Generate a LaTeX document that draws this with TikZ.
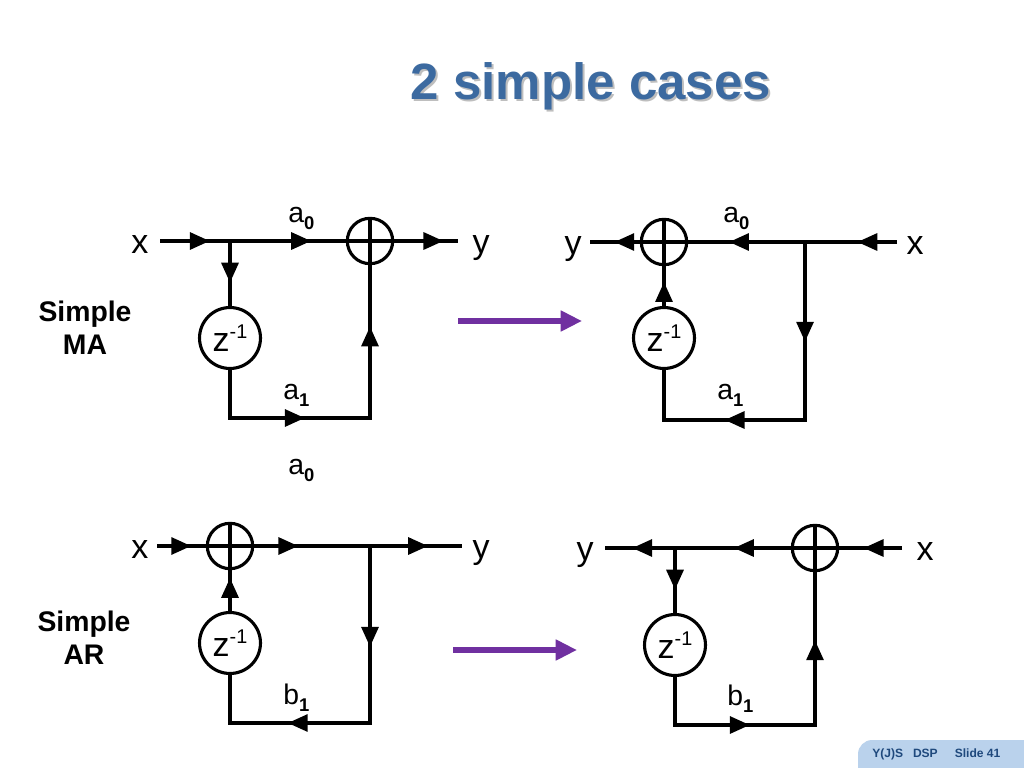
\documentclass[tikz,border=0pt]{standalone}
\usepackage{fontspec}
\setmainfont{Liberation Sans}
\usetikzlibrary{arrows.meta,decorations.markings}

\definecolor{titleblue}{RGB}{60,106,160}
\definecolor{titleshade}{RGB}{190,190,190}
\definecolor{swappurple}{RGB}{112,48,160}
\definecolor{footblue}{RGB}{186,210,236}
\definecolor{foottext}{RGB}{31,73,125}

\newcommand\zinv{z\raisebox{9pt}{\fontsize{14}{14}\selectfont -1}}
\newcommand\coef[2]{#1\raisebox{-5pt}{\fontsize{13}{13}\selectfont\bfseries #2}}

\tikzset{
  sig/.style={line width=2.2pt},
  tip/.style={postaction={decorate,decoration={markings,
      mark=at position #1 with {\arrow{Triangle[length=14pt,width=12pt]}}}}},
  adder/.style={circle,draw,line width=2.2pt,minimum size=32pt,inner sep=0pt,
      path picture={\draw[line width=2.2pt]
        (path picture bounding box.north) -- (path picture bounding box.south)
        (path picture bounding box.west) -- (path picture bounding box.east);}},
  delay/.style={circle,draw,line width=2.2pt,minimum size=43pt,inner sep=0pt,
      font=\fontsize{24}{24}\selectfont},
  lbl/.style={anchor=base,inner sep=0pt,font=\fontsize{24}{24}\selectfont},
  coefl/.style={anchor=base west,inner sep=0pt,font=\fontsize{20}{20}\selectfont},
  side/.style={align=center,inner sep=0pt,font=\fontsize{20}{23}\selectfont\bfseries},
  swap/.style={line width=3.6pt,swappurple,-{Triangle[length=15pt,width=14pt]}}
}

\begin{document}
\begin{tikzpicture}[x=0.0248cm,y=-0.0248cm]
  \fill[white] (0,0) rectangle (1024,768);
  \useasboundingbox (0,0) rectangle (1024,768);

  % title and footer
  \node[anchor=base,font=\fontsize{36}{36}\selectfont\bfseries,text=titleshade] (titleshadow) at (593,102) {2 simple cases};
  \node[anchor=base,font=\fontsize{36}{36}\selectfont\bfseries,text=titleblue] (title) at (591,100) {2 simple cases};
  \fill[footblue] (858,768) [rounded corners=10pt] -- (858,740) [sharp corners] -- (1024,740) -- (1024,768) -- cycle;
  \node[anchor=base west,inner sep=0pt,font=\fontsize{8.5}{8.5}\selectfont\bfseries,text=foottext] (foot) at (872,757) {Y(J)S\hspace{7pt}DSP\hspace{12pt}Slide 41};

  \node[side] (ma) at (85,328) {Simple\\MA};
  \node[side] (ar) at (84,638) {Simple\\AR};

  % simple MA, direct
  \node[lbl] (xa) at (140,253) {x};
  \node[lbl] (ya) at (481,253) {y};
  \coordinate (ina) at (160,241);
  \coordinate (bra) at (230,241);
  \node[adder] (adda) at (370,241) {};
  \coordinate (outa) at (458,241);
  \node[delay] (za) at (230,338) {\zinv};
  \coordinate (bla) at (230,418);
  \coordinate (bra2) at (370,418);
  \node[coefl] (a0a) at (288,222) {\coef{a}{0}};
  \node[coefl] (a1a) at (283,399) {\coef{a}{1}};

  \draw[sig,tip=0.71] (ina) -- (bra);
  \draw[sig,tip=0.70] (bra) -- (adda);
  \draw[sig,tip=0.77] (adda) -- (outa);
  \draw[sig,tip=0.64] (bra) -- (za);
  \draw[sig,tip=0.36,tip=0.82] (za) -- (bla) -- (bra2) -- (adda);

  % simple MA, transposed
  \node[lbl] (yb) at (573,254) {y};
  \node[lbl] (xb) at (915,254) {x};
  \coordinate (inb) at (897,242);
  \coordinate (brb) at (805,242);
  \node[adder] (addb) at (664,242) {};
  \coordinate (outb) at (590,242);
  \node[delay] (zb) at (664,338) {\zinv};
  \coordinate (blb) at (805,420);
  \coordinate (blb2) at (664,420);
  \node[coefl] (a0b) at (723,222) {\coef{a}{0}};
  \node[coefl] (a1b) at (717,399) {\coef{a}{1}};

  \draw[sig,tip=0.43] (inb) -- (brb);
  \draw[sig,tip=0.65] (brb) -- (addb);
  \draw[sig,tip=0.51] (addb) -- (outb);
  \draw[sig,tip=0.27,tip=0.70] (brb) -- (blb) -- (blb2) -- (zb);
  \draw[sig,tip=0.60] (zb) -- (addb);

  % simple AR, direct
  \node[lbl] (xc) at (140,558) {x};
  \node[lbl] (yc) at (481,558) {y};
  \coordinate (inc) at (157,546);
  \node[adder] (addc) at (230,546) {};
  \coordinate (brc) at (370,546);
  \coordinate (outc) at (462,546);
  \node[delay] (zc) at (230,643) {\zinv};
  \coordinate (blc) at (370,723);
  \coordinate (blc2) at (230,723);
  \node[coefl] (a0c) at (288,474) {\coef{a}{0}};
  \node[coefl] (b1c) at (283,704) {\coef{b}{1}};

  \draw[sig,tip=0.70] (inc) -- (addc);
  \draw[sig,tip=0.38] (addc) -- (brc);
  \draw[sig,tip=0.63] (brc) -- (outc);
  \draw[sig,tip=0.276,tip=0.71] (brc) -- (blc) -- (blc2) -- (zc);
  \draw[sig,tip=0.81] (zc) -- (addc);

  % simple AR, transposed
  \node[lbl] (yd) at (585,560) {y};
  \node[lbl] (xd) at (925,560) {x};
  \coordinate (ind) at (902,548);
  \node[adder] (addd) at (815,548) {};
  \coordinate (brd) at (675,548);
  \coordinate (outd) at (605,548);
  \node[delay] (zd) at (675,645) {\zinv};
  \coordinate (bld) at (675,725);
  \coordinate (bld2) at (815,725);
  \node[coefl] (b1d) at (727,705) {\coef{b}{1}};

  \draw[sig,tip=0.61] (ind) -- (addd);
  \draw[sig,tip=0.49] (addd) -- (brd);
  \draw[sig,tip=0.61] (brd) -- (outd);
  \draw[sig,tip=0.64] (brd) -- (zd);
  \draw[sig,tip=0.36,tip=0.80] (zd) -- (bld) -- (bld2) -- (addd);

  % purple arrows
  \coordinate (sw1a) at (458,321);
  \coordinate (sw1b) at (582,321);
  \coordinate (sw2a) at (453,650);
  \coordinate (sw2b) at (577,650);
  \draw[swap] (sw1a) -- (sw1b);
  \draw[swap] (sw2a) -- (sw2b);
\end{tikzpicture}
\end{document}
